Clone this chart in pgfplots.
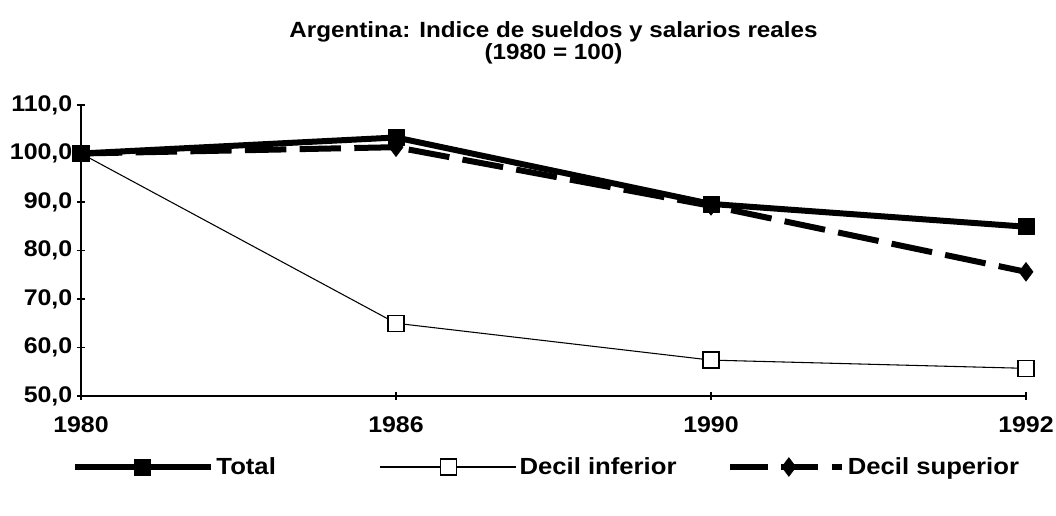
\documentclass[border=0pt]{standalone}
\usepackage{pgfplots}
\pgfplotsset{compat=1.18}
\usepackage{fontspec}
\setmainfont{Liberation Sans}[FakeStretch=1.1]
\pgfplotsset{
  longleg/.style={legend image code/.code={\draw[mark repeat=2,mark phase=2,##1] plot coordinates {(0pt,0pt) (51pt,0pt) (102pt,0pt)};}},
  midleg/.style={legend image code/.code={\draw[mark repeat=2,mark phase=2,##1] plot coordinates {(0pt,0pt) (44pt,0pt) (84pt,0pt)};}},
}
\begin{document}
\begin{tikzpicture}
\useasboundingbox (-60.75pt,-90pt) rectangle (731.25pt,297pt);
\begin{axis}[
  at={(0pt,0pt)}, anchor=south west,
  width=708.75pt, height=218.25pt, scale only axis,
  xmin=0, xmax=3, ymin=50, ymax=110,
  axis lines*=left,
  axis line style={line width=1.2pt},
  xtick={0,1,2,3}, xticklabels={1980,1986,1990,1992},
  ytick={50,60,70,80,90,100,110},
  yticklabel style={/pgf/number format/.cd, fixed, fixed zerofill, precision=1, use comma},
  /pgf/number format/assume math mode=true,
  tick align=center, major tick length=6pt,
  tick style={black, line width=1pt},
  ticklabel style={font=\fontsize{17}{18}\selectfont\bfseries},
  xticklabel style={yshift=-9pt},
  title={Argentina: Indice de sueldos y salarios reales\\(1980 = 100)},
  title style={align=center, font=\fontsize{16.5}{13}\selectfont\bfseries, at={(0.5,1)}, anchor=south, yshift=21pt},
  clip=false,
  legend columns=3,
  legend style={draw=none, fill=none, inner sep=0pt, at={(-0.01,-0.244)}, anchor=west,
    font=\fontsize{17.5}{18}\selectfont\bfseries,
    /tikz/column 2/.style={column sep=76pt},
    /tikz/column 4/.style={column sep=36pt}},
]
\addlegendimage{black, line width=4.5pt, mark=square*, mark size=6pt, mark options={solid, line width=0.5pt, fill=black}, longleg}
\addlegendentry{Total}
\addlegendimage{black, line width=0.8pt, mark=square*, mark size=6pt, mark options={solid, line width=1pt, fill=white}, longleg}
\addlegendentry{Decil inferior}
\addlegendimage{black, line width=4.5pt, dash pattern=on 28pt off 10pt, mark=diamond*, mark size=7pt, mark options={solid, line width=0.5pt, fill=black}, midleg}
\addlegendentry{Decil superior}

\addplot[forget plot, black, line width=0.8pt, mark=square*, mark size=6pt, mark options={solid, line width=1pt, fill=white}]
  coordinates {(0,100.0) (1,65.0) (2,57.4) (3,55.7)};
\addplot[forget plot, black, line width=4.5pt, line join=round, dash pattern=on 31pt off 10pt, mark=diamond*, mark size=7pt, mark options={solid, line width=0.5pt, fill=black}]
  coordinates {(0,100.0) (1,101.3) (2,89.2) (3,75.6)};
\addplot[forget plot, black, line width=4.5pt, line join=round, mark=square*, mark size=6pt, mark options={solid, line width=0.5pt, fill=black}]
  coordinates {(0,100.0) (1,103.3) (2,89.6) (3,84.9)};
\end{axis}
\end{tikzpicture}
\end{document}
